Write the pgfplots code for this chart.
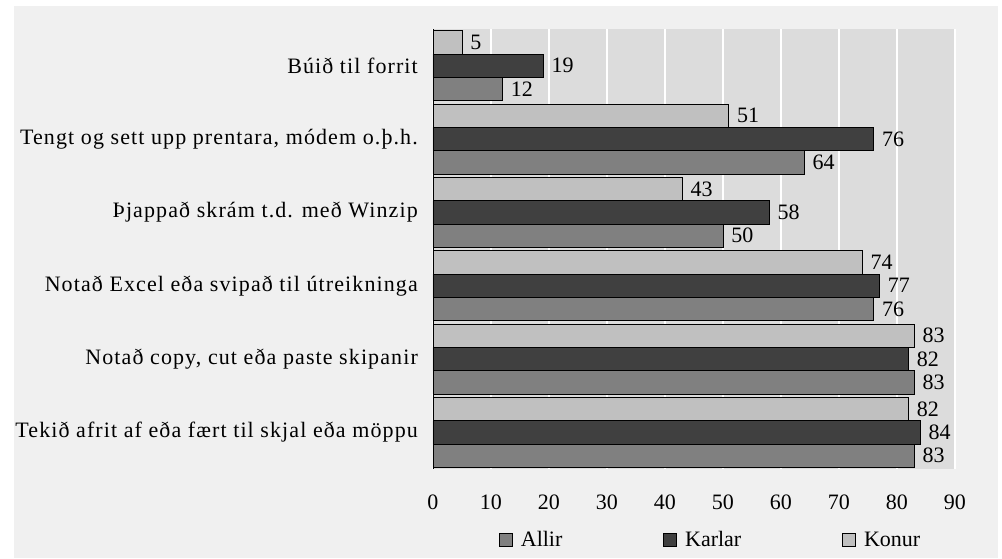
\documentclass[border=0pt]{standalone}
\usepackage{pgfplots}
\pgfplotsset{compat=1.18}
\usepackage{fontspec}
\setmainfont{Liberation Serif}
\newfontfamily\lsfont[LetterSpace=5]{Liberation Serif}
\definecolor{outerbg}{HTML}{F0F0F0}
\definecolor{plotbg}{HTML}{DCDCDC}
\definecolor{cKonur}{HTML}{C0C0C0}
\definecolor{cKarlar}{HTML}{404040}
\definecolor{cAllir}{HTML}{808080}
\pgfplotsset{myleg/.style={legend image code/.code={\draw[##1,draw=black,line width=0.7pt] (0pt,-6.5pt) rectangle (13pt,6.5pt);}}}
\begin{document}
\begin{tikzpicture}
\path[use as bounding box,fill=white] (0pt,0pt) rectangle (1002pt,558pt);
\fill[outerbg] (14pt,0pt) rectangle (998pt,552pt);
\begin{axis}[
  at={(433pt,89pt)}, anchor=south west,
  scale only axis, width=522pt, height=440pt,
  xmin=0, xmax=90, ymin=-0.5, ymax=5.5, y dir=reverse,
  xbar, bar width=0.318,
  /pgf/number format/assume math mode=true,
  axis background/.style={fill=plotbg},
  xmajorgrids, grid style={white, line width=1.3pt},
  axis x line*=bottom, axis y line*=left,
  x axis line style={draw=none},
  y axis line style={black, line width=0.9pt, -},
  xtick={0,10,...,90}, ytick={0,1,2,3,4,5},
  yticklabels={Búið til forrit,{Tengt og sett upp prentara, módem o.þ.h.},Þjappað skrám t.d. með Winzip,Notað Excel eða svipað til útreikninga,{Notað copy, cut eða paste skipanir},Tekið afrit af eða fært til skjal eða möppu},
  major tick length=0pt,
  xticklabel style={font=\fontsize{22}{26}\selectfont, anchor=base, yshift=-40pt},
  yticklabel style={font=\lsfont\fontsize{22}{26}\selectfont, anchor=east, inner sep=0pt, xshift=-15pt},
  nodes near coords,
  every node near coord/.append style={font=\fontsize{22}{26}\selectfont, anchor=west, inner sep=0pt, xshift=8pt, text=black},
  legend columns=3,
  legend style={at={(axis description cs:0.1264,-0.1614)}, anchor=west, draw=none, fill=none, inner sep=0pt,
    font=\fontsize{22}{26}\selectfont, column sep=8pt,
    nodes={inner sep=0pt},
    /tikz/every even column/.append style={column sep=101pt}},
]
\addplot[myleg, fill=cAllir, draw=black, line width=0.7pt, bar shift=0.318] coordinates {(12,0) (64,1) (50,2) (76,3) (83,4) (83,5)};
\addplot[myleg, fill=cKarlar, draw=black, line width=0.7pt, bar shift=0] coordinates {(19,0) (76,1) (58,2) (77,3) (82,4) (84,5)};
\addplot[myleg, fill=cKonur, draw=black, line width=0.7pt, bar shift=-0.318] coordinates {(5,0) (51,1) (43,2) (74,3) (83,4) (82,5)};
\legend{Allir,Karlar,Konur}
\end{axis}
\end{tikzpicture}
\end{document}
